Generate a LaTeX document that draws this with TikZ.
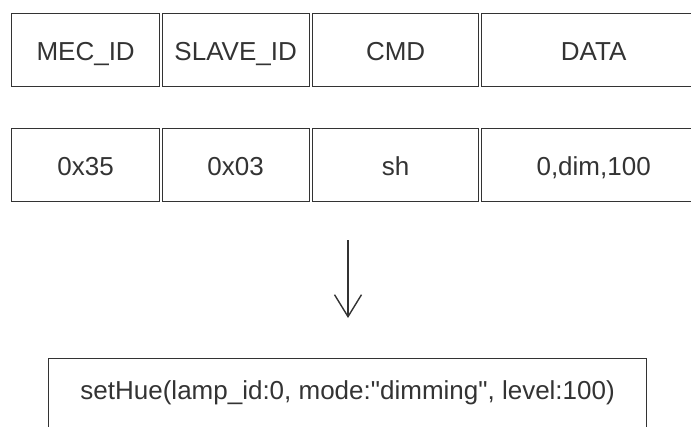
\documentclass[tikz,border=0pt]{standalone}
\usepackage{fontspec}
\setmainfont{Liberation Sans}[Ligatures=TeXOff]
\usetikzlibrary{arrows.meta}
\begin{document}
\begin{tikzpicture}[x=1pt,y=-1pt,
  cell/.style={draw=black!80, line width=1.3pt, rectangle, inner sep=0pt,
    text=black!80, font=\fontsize{26}{30}\selectfont, anchor=north west,
    minimum height=73pt, text height=25pt, text depth=5pt},
  conn/.style={draw=black!80, line width=1.4pt, -{Straight Barb[length=22pt,width=27pt,line width=1.4pt]}}]
\useasboundingbox (0,0) rectangle (691,426);
\clip (0,0) rectangle (691,426);
% row 1
\node[cell, minimum width=148pt] (h1) at (11,13) {MEC\_ID};
\node[cell, minimum width=147pt] (h2) at (161.5,13) {SLAVE\_ID};
\node[cell, minimum width=166pt] (h3) at (312,13) {CMD};
\node[cell, minimum width=224pt] (h4) at (481,13) {DATA};
% row 2
\node[cell, minimum width=148pt] (v1) at (11,128) {0x35};
\node[cell, minimum width=147pt] (v2) at (161.5,128) {0x03};
\node[cell, minimum width=166pt] (v3) at (312,128) {sh};
\node[cell, minimum width=224pt] (v4) at (481,128) {0,dim,100};
% arrow
\coordinate (a1) at (348,240);
\coordinate (a2) at (348,318);
\draw[conn] (a1) -- (a2);
% result
\node[cell, minimum width=598pt, minimum height=80pt, text height=19pt, text depth=17pt] (res) at (48,358) {setHue(lamp\_id:0, mode:"dimming", level:100)};
\end{tikzpicture}
\end{document}
